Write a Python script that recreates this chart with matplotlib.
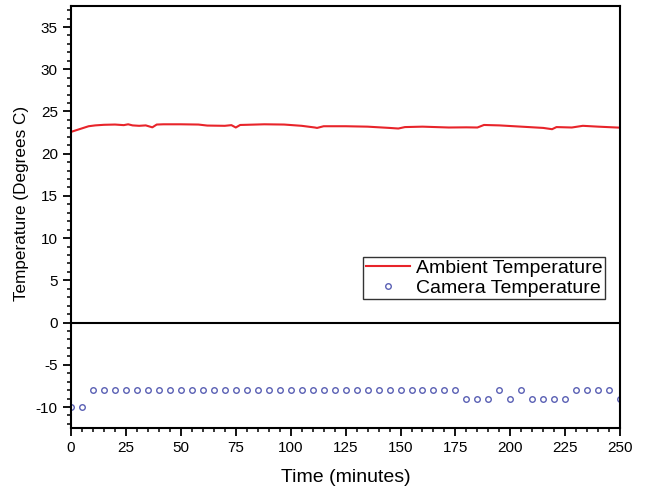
import numpy as np
import matplotlib
matplotlib.use("Agg")
import matplotlib.pyplot as plt
from matplotlib.ticker import MultipleLocator

plt.rcParams['font.family'] = ['Liberation Sans', 'DejaVu Sans']
plt.rcParams['axes.unicode_minus'] = False

# ambient temperature
amb_time = [0, 2, 5, 8, 11, 15, 20, 24, 26, 28, 31, 34, 37, 39, 42, 50, 58, 62,
            70, 73, 75, 77, 80, 88, 97, 105, 111, 112, 115, 125, 135, 145, 149,
            152, 160, 172, 180, 185, 188, 195, 205, 215, 219, 221, 228, 233, 240, 250]
amb_temp = [22.58, 22.75, 23.0, 23.25, 23.35, 23.42, 23.45, 23.38, 23.48, 23.35,
            23.3, 23.35, 23.12, 23.45, 23.48, 23.48, 23.45, 23.33, 23.3, 23.38,
            23.1, 23.4, 23.42, 23.48, 23.45, 23.3, 23.1, 23.05, 23.25, 23.25,
            23.2, 23.05, 22.98, 23.15, 23.2, 23.1, 23.12, 23.1, 23.4, 23.35,
            23.2, 23.05, 22.9, 23.15, 23.1, 23.3, 23.2, 23.08]

# camera temperature, one reading every 5 minutes
cam_time = list(range(0, 255, 5))
cam_temp = ([-10, -10] + [-8] * 34 + [-9, -9, -9, -8, -9, -8, -9, -9, -9, -9,
                                       -8, -8, -8, -8, -9])

fig = plt.figure(figsize=(6.46, 4.91), dpi=100)
ax = fig.add_axes([0.110, 0.128, 0.850, 0.860])

ax.plot(amb_time, amb_temp, color="#e8242a", lw=1.5, label="Ambient Temperature")
ax.plot(cam_time, cam_temp, ls="none", marker="o", ms=4, mfc="none", mec="#5a60b4",
        mew=1.0, label="Camera Temperature")
ax.axhline(0, color="black", lw=1.5)

ax.set_xlim(0, 250)
ax.set_ylim(-12.5, 37.5)
ax.xaxis.set_major_locator(MultipleLocator(25))
ax.xaxis.set_minor_locator(MultipleLocator(5))
ax.yaxis.set_major_locator(MultipleLocator(5))
ax.yaxis.set_minor_locator(MultipleLocator(1))
ax.tick_params(which="major", direction="out", length=6, width=1.3, labelsize=11)
ax.tick_params(which="minor", direction="out", length=3, width=1.1)
for s in ax.spines.values():
    s.set_linewidth(1.5)

ax.set_xlabel("Time (minutes)", fontsize=14, labelpad=10)
ax.set_ylabel("Temperature (Degrees C)", fontsize=12.3)
ax.yaxis.set_label_coords(-0.076, 0.533)

leg = ax.legend(loc="upper left", bbox_to_anchor=(0.532, 0.405), borderaxespad=0,
                fontsize=14, frameon=True, fancybox=False, edgecolor="black",
                borderpad=0.12, handlelength=2.3, handletextpad=0.3, labelspacing=0.1)
leg.get_frame().set_linewidth(1.0)

fig.savefig("out.png", dpi=100)
